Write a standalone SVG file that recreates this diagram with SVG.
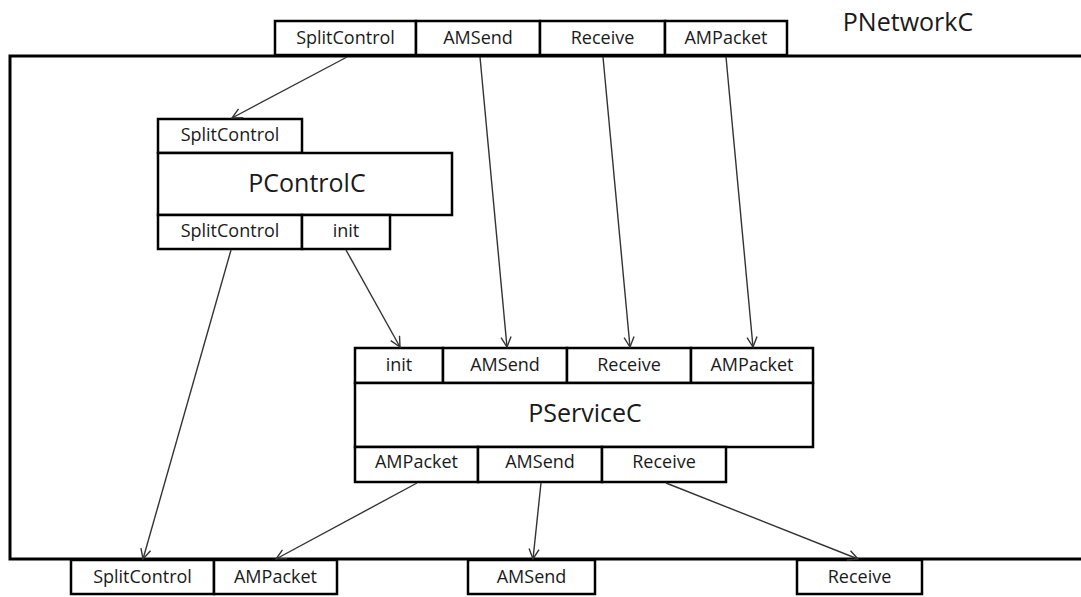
<svg xmlns="http://www.w3.org/2000/svg" width="1081" height="597" viewBox="0 0 1081 597">
  <style>
    .box { fill: #ffffff; stroke: #000000; stroke-width: 2.5; }
    .frame { fill: #ffffff; stroke: #000000; stroke-width: 3; }
    .port { font-family: "Open Sans", "Liberation Sans", sans-serif; font-size: 18px; fill: #1a1a1a; text-anchor: middle; dominant-baseline: central; }
    .title { font-family: "Open Sans", "Liberation Sans", sans-serif; font-size: 25px; fill: #1a1a1a; text-anchor: middle; dominant-baseline: central; }
    .conn { stroke: #333333; stroke-width: 1.4; fill: none; marker-end: url(#arrow); }
  </style>
  <defs>
    <marker id="arrow" viewBox="0 0 12 12" refX="11" refY="6" markerWidth="12" markerHeight="12" markerUnits="userSpaceOnUse" orient="auto">
      <path d="M1,1 L11,6 L1,11" fill="none" stroke="#333333" stroke-width="1.4"/>
    </marker>
  </defs>

  <g id="PNetworkC">
    <rect class="frame" x="10" y="56" width="1080" height="503"/>
    <text class="title" x="908" y="21">PNetworkC</text>
    <rect class="box" x="275" y="21" width="141" height="34"/>
    <text class="port" x="345.5" y="36.5">SplitControl</text>
    <rect class="box" x="416" y="21" width="124" height="34"/>
    <text class="port" x="478" y="36.5">AMSend</text>
    <rect class="box" x="540" y="21" width="125" height="34"/>
    <text class="port" x="602.5" y="36.5">Receive</text>
    <rect class="box" x="665" y="21" width="122" height="34"/>
    <text class="port" x="726" y="36.5">AMPacket</text>
    <rect class="box" x="71" y="560" width="143" height="34"/>
    <text class="port" x="142.5" y="575.5">SplitControl</text>
    <rect class="box" x="214" y="560" width="123" height="34"/>
    <text class="port" x="275.5" y="575.5">AMPacket</text>
    <rect class="box" x="468" y="560" width="127" height="34"/>
    <text class="port" x="531.5" y="575.5">AMSend</text>
    <rect class="box" x="797" y="560" width="125" height="34"/>
    <text class="port" x="859.5" y="575.5">Receive</text>
  </g>

  <g id="PControlC">
    <rect class="box" x="158" y="119" width="144" height="34"/>
    <text class="port" x="230" y="134">SplitControl</text>
    <rect class="box" x="158" y="153" width="294" height="62"/>
    <text class="title" x="307" y="182">PControlC</text>
    <rect class="box" x="158" y="215" width="144" height="34"/>
    <text class="port" x="230" y="230">SplitControl</text>
    <rect class="box" x="302" y="215" width="88" height="34"/>
    <text class="port" x="346" y="230">init</text>
  </g>

  <g id="PServiceC">
    <rect class="box" x="355" y="348" width="88" height="35"/>
    <text class="port" x="399" y="363.5">init</text>
    <rect class="box" x="443" y="348" width="124" height="35"/>
    <text class="port" x="505" y="363.5">AMSend</text>
    <rect class="box" x="567" y="348" width="124" height="35"/>
    <text class="port" x="629" y="363.5">Receive</text>
    <rect class="box" x="691" y="348" width="122" height="35"/>
    <text class="port" x="752" y="363.5">AMPacket</text>
    <rect class="box" x="355" y="383" width="458" height="64"/>
    <text class="title" x="585" y="412">PServiceC</text>
    <rect class="box" x="355" y="447" width="123" height="35"/>
    <text class="port" x="416.5" y="461">AMPacket</text>
    <rect class="box" x="478" y="447" width="124" height="35"/>
    <text class="port" x="540" y="461">AMSend</text>
    <rect class="box" x="602" y="447" width="124" height="35"/>
    <text class="port" x="664" y="461">Receive</text>
  </g>

  <g id="connectors">
    <line class="conn" x1="347" y1="57" x2="232" y2="118"/>
    <line class="conn" x1="480" y1="57" x2="507" y2="347"/>
    <line class="conn" x1="603" y1="57" x2="630" y2="347"/>
    <line class="conn" x1="726" y1="57" x2="753" y2="347"/>
    <line class="conn" x1="231" y1="250" x2="143" y2="559"/>
    <line class="conn" x1="346" y1="250" x2="400" y2="347"/>
    <line class="conn" x1="417" y1="483" x2="276" y2="559"/>
    <line class="conn" x1="541" y1="483" x2="533" y2="559"/>
    <line class="conn" x1="666" y1="483" x2="858" y2="559"/>
  </g>
</svg>
